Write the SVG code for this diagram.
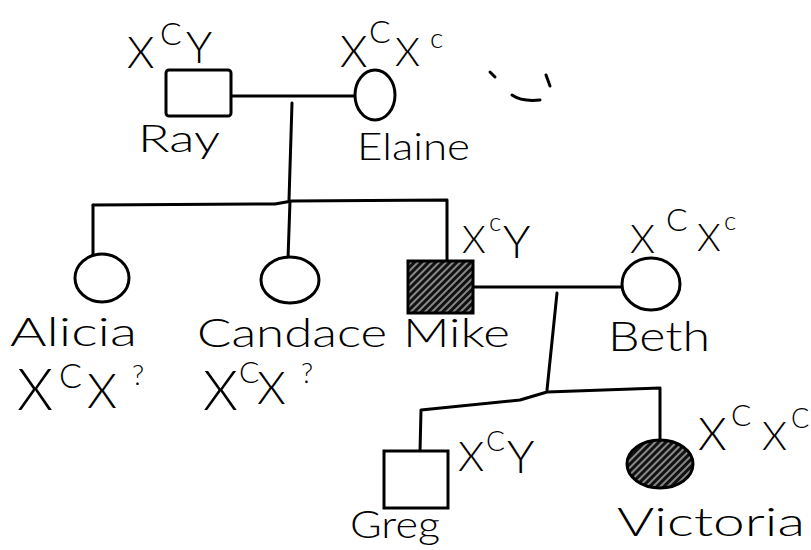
<svg xmlns="http://www.w3.org/2000/svg" width="811" height="550" viewBox="0 0 811 550">
  <style>
    .ln { fill: none; stroke: #000; stroke-width: 3; stroke-linecap: round; stroke-linejoin: round; }
    .sym { fill: #fff; stroke: #000; stroke-width: 3; }
    .aff { fill: url(#hatch); stroke: #000; stroke-width: 3; }
    .nm, .gt { font-family: "Lato", "Open Sans", "Liberation Sans", sans-serif; font-weight: 300; fill: #000; }
  </style>
  <defs>
    <!-- diagonal shading for affected individuals -->
    <pattern id="hatch" patternUnits="userSpaceOnUse" width="5" height="5" patternTransform="rotate(45)">
      <rect width="5" height="5" fill="#111"/>
      <line x1="1" y1="0" x2="1" y2="5" stroke="#fff" stroke-width="1"/>
    </pattern>
  </defs>
  <rect width="811" height="550" fill="#fff"/>

  <!-- connectors: marriage lines, descent lines, sibships -->
  <g id="connectors">
    <path class="ln" d="M232 96 L355 96"/>
    <path class="ln" d="M292 103 L289 200"/>
    <path class="ln" d="M93 205 L275 204 L292 201 L447 200 L447 260"/>
    <path class="ln" d="M93 205 L93 259"/>
    <path class="ln" d="M290 201 L288 259"/>
    <path class="ln" d="M473 287 L621 287"/>
    <path class="ln" d="M557 293 L547 390"/>
    <path class="ln" d="M420 452 L421 410 L520 400 L547 392 L660 388 L660 440"/>
  </g>

  <!-- stray pen marks -->
  <g id="marks">
    <path class="ln" stroke-width="2.5" d="M490 72 L495 77"/>
    <path class="ln" stroke-width="2.5" d="M546 75 L550 86"/>
    <path class="ln" stroke-width="2.5" d="M512 95 Q522 102 540 100"/>
  </g>

  <g id="ray">
    <rect class="sym" x="166" y="70" width="65" height="46" rx="3"/>
    <text class="gt"><tspan x="127" y="68" font-size="44">X</tspan><tspan x="160" y="45" font-size="32">C</tspan><tspan x="186" y="63" font-size="44">Y</tspan></text>
    <text class="nm" x="138" y="152" font-size="38" textLength="82" lengthAdjust="spacingAndGlyphs">Ray</text>
  </g>

  <g id="elaine">
    <ellipse class="sym" cx="375" cy="95" rx="20" ry="25"/>
    <text class="gt"><tspan x="340" y="67" font-size="44">X</tspan><tspan x="369" y="43" font-size="32">C</tspan><tspan x="395" y="66" font-size="40">X</tspan><tspan x="430" y="48" font-size="28">c</tspan></text>
    <text class="nm" x="357" y="160" font-size="38" textLength="113" lengthAdjust="spacingAndGlyphs">Elaine</text>
  </g>

  <g id="alicia">
    <ellipse class="sym" cx="102" cy="278" rx="27" ry="24"/>
    <text class="nm" x="10" y="346" font-size="40" textLength="127" lengthAdjust="spacingAndGlyphs">Alicia</text>
    <text class="gt"><tspan x="17" y="410" font-size="58">X</tspan><tspan x="59" y="388" font-size="34">C</tspan><tspan x="87" y="408" font-size="48">X</tspan><tspan x="132" y="385" font-size="28">?</tspan></text>
  </g>

  <g id="candace">
    <ellipse class="sym" cx="290" cy="280" rx="29" ry="23"/>
    <text class="nm" x="197" y="347" font-size="40" textLength="190" lengthAdjust="spacingAndGlyphs">Candace</text>
    <text class="gt"><tspan x="203" y="410" font-size="56">X</tspan><tspan x="239" y="383" font-size="30">C</tspan><tspan x="257" y="404" font-size="46">X</tspan><tspan x="301" y="383" font-size="28">?</tspan></text>
  </g>

  <g id="mike">
    <rect class="aff" x="408" y="261" width="65" height="52"/>
    <text class="gt"><tspan x="462" y="253" font-size="38">X</tspan><tspan x="489" y="231" font-size="26">c</tspan><tspan x="503" y="258" font-size="46">Y</tspan></text>
    <text class="nm" x="403" y="347" font-size="40" textLength="107" lengthAdjust="spacingAndGlyphs">Mike</text>
  </g>

  <g id="beth">
    <ellipse class="sym" cx="651" cy="284" rx="29" ry="26"/>
    <text class="gt"><tspan x="630" y="253" font-size="40">X</tspan><tspan x="666" y="231" font-size="32">C</tspan><tspan x="697" y="251" font-size="38">X</tspan><tspan x="724" y="230" font-size="26">c</tspan></text>
    <text class="nm" x="608" y="351" font-size="42" textLength="102" lengthAdjust="spacingAndGlyphs">Beth</text>
  </g>

  <g id="greg">
    <rect class="sym" x="384" y="451" width="64" height="57"/>
    <text class="gt"><tspan x="458" y="471" font-size="42">X</tspan><tspan x="486" y="451" font-size="28">C</tspan><tspan x="507" y="473" font-size="46">Y</tspan></text>
    <text class="nm" x="350" y="538" font-size="38" textLength="90" lengthAdjust="spacingAndGlyphs">Greg</text>
  </g>

  <g id="victoria">
    <ellipse class="aff" cx="660" cy="464" rx="33" ry="24"/>
    <text class="gt"><tspan x="698" y="450" font-size="46">X</tspan><tspan x="731" y="426" font-size="30">C</tspan><tspan x="762" y="450" font-size="40">X</tspan><tspan x="791" y="428" font-size="27">C</tspan></text>
    <text class="nm" x="617" y="536" font-size="40" textLength="188" lengthAdjust="spacingAndGlyphs">Victoria</text>
  </g>
</svg>
